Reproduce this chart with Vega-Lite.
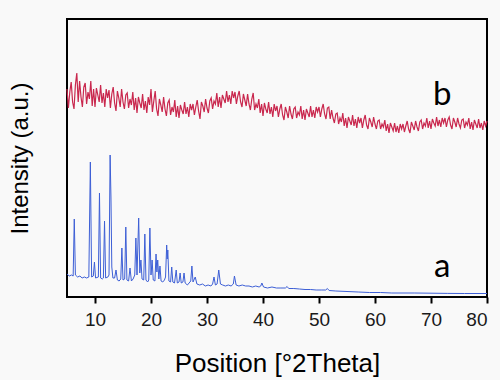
{
  "$schema": "https://vega.github.io/schema/vega-lite/v6.json",
  "width": 420,
  "height": 278,
  "autosize": {"type": "none"},
  "padding": {"left": 67, "top": 19, "right": 13, "bottom": 83},
  "background": "#f9f9f9",
  "config": {
    "view": {"fill": "#f9f9f9", "stroke": "#000000", "strokeWidth": 2},
    "axis": {"titleFont": "Liberation Sans", "labelFont": "Liberation Sans", "titleFontWeight": "normal", "titleColor": "#000000", "labelColor": "#1a1a1a"}
  },
  "datasets": {
    "a": [
      {"pos":5.0,"int":23},{"pos":5.4,"int":21},{"pos":5.8,"int":22},{"pos":6.1,"int":21},{"pos":6.3,"int":78},{"pos":6.5,"int":22},{"pos":6.9,"int":20},{"pos":7.3,"int":21},{"pos":7.7,"int":19},{"pos":8.1,"int":20},{"pos":8.5,"int":19},{"pos":8.9,"int":20},{"pos":9.17,"int":135},{"pos":9.4,"int":20},{"pos":9.7,"int":21},{"pos":9.9,"int":35},{"pos":10.1,"int":19},{"pos":10.6,"int":20},{"pos":10.8,"int":104},{"pos":11.0,"int":19},{"pos":11.3,"int":18},{"pos":11.5,"int":19},{"pos":11.7,"int":76},{"pos":11.9,"int":19},{"pos":12.3,"int":20},{"pos":12.5,"int":22},{"pos":12.7,"int":142},{"pos":12.85,"int":100},{"pos":13.0,"int":30},{"pos":13.2,"int":19},{"pos":13.5,"int":19},{"pos":13.75,"int":27},{"pos":14.0,"int":17},{"pos":14.3,"int":16},{"pos":14.6,"int":18},{"pos":14.8,"int":49},{"pos":15.0,"int":17},{"pos":15.3,"int":18},{"pos":15.5,"int":70},{"pos":15.7,"int":17},{"pos":16.0,"int":16},{"pos":16.25,"int":29},{"pos":16.5,"int":16},{"pos":16.8,"int":18},{"pos":17.1,"int":22},{"pos":17.3,"int":59},{"pos":17.5,"int":22},{"pos":17.8,"int":79},{"pos":18.0,"int":24},{"pos":18.2,"int":37},{"pos":18.4,"int":18},{"pos":18.7,"int":17},{"pos":18.9,"int":63},{"pos":19.1,"int":17},{"pos":19.4,"int":15},{"pos":19.6,"int":17},{"pos":19.8,"int":69},{"pos":20.0,"int":22},{"pos":20.2,"int":37},{"pos":20.4,"int":17},{"pos":20.7,"int":16},{"pos":20.9,"int":43},{"pos":21.05,"int":25},{"pos":21.2,"int":37},{"pos":21.4,"int":18},{"pos":21.6,"int":31},{"pos":21.8,"int":16},{"pos":22.1,"int":15},{"pos":22.4,"int":17},{"pos":22.6,"int":20},{"pos":22.8,"int":52},{"pos":22.9,"int":38},{"pos":23.0,"int":47},{"pos":23.2,"int":16},{"pos":23.5,"int":15},{"pos":23.7,"int":30},{"pos":23.9,"int":15},{"pos":24.2,"int":14},{"pos":24.5,"int":27},{"pos":24.7,"int":14},{"pos":25.0,"int":15},{"pos":25.2,"int":24},{"pos":25.4,"int":14},{"pos":25.7,"int":15},{"pos":25.9,"int":24},{"pos":26.1,"int":14},{"pos":26.5,"int":12},{"pos":26.8,"int":14},{"pos":27.1,"int":16},{"pos":27.3,"int":31},{"pos":27.5,"int":15},{"pos":27.9,"int":20},{"pos":28.2,"int":13},{"pos":28.7,"int":12},{"pos":29.2,"int":13},{"pos":29.7,"int":11},{"pos":30.2,"int":12},{"pos":30.7,"int":11},{"pos":31.0,"int":13},{"pos":31.25,"int":20},{"pos":31.5,"int":12},{"pos":31.8,"int":13},{"pos":32.1,"int":27},{"pos":32.4,"int":13},{"pos":32.8,"int":12},{"pos":33.3,"int":11},{"pos":33.8,"int":12},{"pos":34.3,"int":11},{"pos":34.7,"int":13},{"pos":34.9,"int":21},{"pos":35.2,"int":12},{"pos":35.7,"int":11},{"pos":36.3,"int":12},{"pos":36.9,"int":11},{"pos":37.5,"int":11},{"pos":38.1,"int":10},{"pos":38.7,"int":11},{"pos":39.3,"int":10},{"pos":39.6,"int":11},{"pos":39.8,"int":14},{"pos":40.1,"int":10},{"pos":40.8,"int":9},{"pos":41.6,"int":10},{"pos":42.4,"int":9},{"pos":43.2,"int":9},{"pos":44.0,"int":9},{"pos":44.3,"int":10.5},{"pos":44.6,"int":8.5},{"pos":45.5,"int":8.5},{"pos":46.5,"int":8},{"pos":47.5,"int":7.5},{"pos":48.5,"int":7.5},{"pos":49.5,"int":7},{"pos":50.5,"int":7},{"pos":51.2,"int":7},{"pos":51.5,"int":8.5},{"pos":51.8,"int":6.5},{"pos":53,"int":6},{"pos":55,"int":5.5},{"pos":57,"int":5},{"pos":59,"int":4.5},{"pos":61,"int":4.5},{"pos":63,"int":4},{"pos":65,"int":4},{"pos":67,"int":4},{"pos":70,"int":3.8},{"pos":73,"int":3.6},{"pos":76,"int":3.5},{"pos":80,"int":3.5}
    ],
    "b": [
      {"pos":5.0,"int":208},{"pos":5.25,"int":189},{"pos":5.5,"int":205},{"pos":5.75,"int":215},{"pos":6.0,"int":195},{"pos":6.25,"int":188},{"pos":6.5,"int":212},{"pos":6.75,"int":224},{"pos":7.0,"int":195},{"pos":7.25,"int":216},{"pos":7.5,"int":200},{"pos":7.75,"int":190},{"pos":8.0,"int":210},{"pos":8.25,"int":214},{"pos":8.5,"int":193},{"pos":8.75,"int":205},{"pos":9.0,"int":198},{"pos":9.25,"int":216},{"pos":9.5,"int":191},{"pos":9.75,"int":208},
      {"pos":10.0,"int":190},{"pos":10.25,"int":209},{"pos":10.5,"int":202},{"pos":10.75,"int":195},{"pos":11.0,"int":212},{"pos":11.25,"int":194},{"pos":11.5,"int":204},{"pos":11.75,"int":190},{"pos":12.0,"int":208},{"pos":12.25,"int":199},{"pos":12.5,"int":207},{"pos":12.75,"int":189},{"pos":13.0,"int":203},{"pos":13.25,"int":210},{"pos":13.5,"int":194},{"pos":13.75,"int":186},{"pos":14.0,"int":206},{"pos":14.25,"int":199},{"pos":14.5,"int":190},{"pos":14.75,"int":208},
      {"pos":15.0,"int":195},{"pos":15.25,"int":188},{"pos":15.5,"int":202},{"pos":15.75,"int":204},{"pos":16.0,"int":189},{"pos":16.25,"int":198},{"pos":16.5,"int":192},{"pos":16.75,"int":205},{"pos":17.0,"int":187},{"pos":17.25,"int":199},{"pos":17.5,"int":184},{"pos":17.75,"int":200},{"pos":18.0,"int":194},{"pos":18.25,"int":189},{"pos":18.5,"int":203},{"pos":18.75,"int":187},{"pos":19.0,"int":196},{"pos":19.25,"int":184},{"pos":19.5,"int":200},{"pos":19.75,"int":192},
      {"pos":20.0,"int":208},{"pos":20.25,"int":185},{"pos":20.5,"int":196},{"pos":20.75,"int":206},{"pos":21.0,"int":188},{"pos":21.25,"int":181},{"pos":21.5,"int":198},{"pos":21.75,"int":192},{"pos":22.0,"int":185},{"pos":22.25,"int":200},{"pos":22.5,"int":188},{"pos":22.75,"int":181},{"pos":23.0,"int":194},{"pos":23.25,"int":197},{"pos":23.5,"int":182},{"pos":23.75,"int":190},{"pos":24.0,"int":185},{"pos":24.25,"int":197},{"pos":24.5,"int":180},{"pos":24.75,"int":191},
      {"pos":25.0,"int":179},{"pos":25.25,"int":192},{"pos":25.5,"int":187},{"pos":25.75,"int":183},{"pos":26.0,"int":195},{"pos":26.25,"int":183},{"pos":26.5,"int":190},{"pos":26.75,"int":180},{"pos":27.0,"int":193},{"pos":27.25,"int":187},{"pos":27.5,"int":193},{"pos":27.75,"int":182},{"pos":28.0,"int":190},{"pos":28.25,"int":197},{"pos":28.5,"int":186},{"pos":28.75,"int":178},{"pos":29.0,"int":195},{"pos":29.25,"int":191},{"pos":29.5,"int":185},{"pos":29.75,"int":198},
      {"pos":30.0,"int":189},{"pos":30.25,"int":184},{"pos":30.5,"int":196},{"pos":30.75,"int":199},{"pos":31.0,"int":188},{"pos":31.25,"int":196},{"pos":31.5,"int":193},{"pos":31.75,"int":204},{"pos":32.0,"int":190},{"pos":32.25,"int":200},{"pos":32.5,"int":189},{"pos":32.75,"int":202},{"pos":33.0,"int":198},{"pos":33.25,"int":194},{"pos":33.5,"int":206},{"pos":33.75,"int":195},{"pos":34.0,"int":202},{"pos":34.25,"int":193},{"pos":34.5,"int":206},{"pos":34.75,"int":199},
      {"pos":35.0,"int":205},{"pos":35.25,"int":193},{"pos":35.5,"int":201},{"pos":35.75,"int":206},{"pos":36.0,"int":195},{"pos":36.25,"int":190},{"pos":36.5,"int":203},{"pos":36.75,"int":197},{"pos":37.0,"int":191},{"pos":37.25,"int":203},{"pos":37.5,"int":193},{"pos":37.75,"int":187},{"pos":38.0,"int":198},{"pos":38.25,"int":204},{"pos":38.5,"int":187},{"pos":38.75,"int":193},{"pos":39.0,"int":189},{"pos":39.25,"int":198},{"pos":39.5,"int":184},{"pos":39.75,"int":193},
      {"pos":40.0,"int":181},{"pos":40.25,"int":194},{"pos":40.5,"int":188},{"pos":40.75,"int":184},{"pos":41.0,"int":195},{"pos":41.25,"int":183},{"pos":41.5,"int":190},{"pos":41.75,"int":180},{"pos":42.0,"int":193},{"pos":42.25,"int":186},{"pos":42.5,"int":191},{"pos":42.75,"int":180},{"pos":43.0,"int":188},{"pos":43.25,"int":193},{"pos":43.5,"int":182},{"pos":43.75,"int":177},{"pos":44.0,"int":190},{"pos":44.25,"int":185},{"pos":44.5,"int":179},{"pos":44.75,"int":191},
      {"pos":45.0,"int":183},{"pos":45.25,"int":178},{"pos":45.5,"int":188},{"pos":45.75,"int":190},{"pos":46.0,"int":179},{"pos":46.25,"int":185},{"pos":46.5,"int":182},{"pos":46.75,"int":191},{"pos":47.0,"int":178},{"pos":47.25,"int":187},{"pos":47.5,"int":177},{"pos":47.75,"int":188},{"pos":48.0,"int":184},{"pos":48.25,"int":180},{"pos":48.5,"int":191},{"pos":48.75,"int":180},{"pos":49.0,"int":187},{"pos":49.25,"int":179},{"pos":49.5,"int":190},{"pos":49.75,"int":185},
      {"pos":50.0,"int":190},{"pos":50.25,"int":180},{"pos":50.5,"int":188},{"pos":50.75,"int":193},{"pos":51.0,"int":183},{"pos":51.25,"int":178},{"pos":51.5,"int":189},{"pos":51.75,"int":190},{"pos":52.0,"int":178},{"pos":52.25,"int":187},{"pos":52.5,"int":179},{"pos":52.75,"int":174},{"pos":53.0,"int":183},{"pos":53.25,"int":184},{"pos":53.5,"int":173},{"pos":53.75,"int":179},{"pos":54.0,"int":175},{"pos":54.25,"int":184},{"pos":54.5,"int":171},{"pos":54.75,"int":179},
      {"pos":55.0,"int":169},{"pos":55.25,"int":180},{"pos":55.5,"int":176},{"pos":55.75,"int":172},{"pos":56.0,"int":182},{"pos":56.25,"int":171},{"pos":56.5,"int":178},{"pos":56.75,"int":169},{"pos":57.0,"int":180},{"pos":57.25,"int":174},{"pos":57.5,"int":179},{"pos":57.75,"int":169},{"pos":58.0,"int":177},{"pos":58.25,"int":182},{"pos":58.5,"int":172},{"pos":58.75,"int":168},{"pos":59.0,"int":179},{"pos":59.25,"int":175},{"pos":59.5,"int":170},{"pos":59.75,"int":180},
      {"pos":60.0,"int":173},{"pos":60.25,"int":168},{"pos":60.5,"int":176},{"pos":60.75,"int":177},{"pos":61.0,"int":168},{"pos":61.25,"int":173},{"pos":61.5,"int":170},{"pos":61.75,"int":177},{"pos":62.0,"int":166},{"pos":62.25,"int":173},{"pos":62.5,"int":164},{"pos":62.75,"int":174},{"pos":63.0,"int":170},{"pos":63.25,"int":166},{"pos":63.5,"int":174},{"pos":63.75,"int":165},{"pos":64.0,"int":171},{"pos":64.25,"int":164},{"pos":64.5,"int":173},{"pos":64.75,"int":168},
      {"pos":65.0,"int":173},{"pos":65.25,"int":165},{"pos":65.5,"int":171},{"pos":65.75,"int":176},{"pos":66.0,"int":168},{"pos":66.25,"int":164},{"pos":66.5,"int":175},{"pos":66.75,"int":171},{"pos":67.0,"int":167},{"pos":67.25,"int":176},{"pos":67.5,"int":170},{"pos":67.75,"int":166},{"pos":68.0,"int":175},{"pos":68.25,"int":177},{"pos":68.5,"int":168},{"pos":68.75,"int":174},{"pos":69.0,"int":171},{"pos":69.25,"int":179},{"pos":69.5,"int":169},{"pos":69.75,"int":176},
      {"pos":70.0,"int":168},{"pos":70.25,"int":178},{"pos":70.5,"int":174},{"pos":70.75,"int":171},{"pos":71.0,"int":180},{"pos":71.25,"int":171},{"pos":71.5,"int":177},{"pos":71.75,"int":170},{"pos":72.0,"int":179},{"pos":72.25,"int":174},{"pos":72.5,"int":179},{"pos":72.75,"int":170},{"pos":73.0,"int":177},{"pos":73.25,"int":180},{"pos":73.5,"int":172},{"pos":73.75,"int":168},{"pos":74.0,"int":179},{"pos":74.25,"int":175},{"pos":74.5,"int":170},{"pos":74.75,"int":179},
      {"pos":75.0,"int":173},{"pos":75.25,"int":169},{"pos":75.5,"int":177},{"pos":75.75,"int":178},{"pos":76.0,"int":169},{"pos":76.25,"int":175},{"pos":76.5,"int":172},{"pos":76.75,"int":179},{"pos":77.0,"int":168},{"pos":77.25,"int":175},{"pos":77.5,"int":167},{"pos":77.75,"int":177},{"pos":78.0,"int":173},{"pos":78.25,"int":169},{"pos":78.5,"int":178},{"pos":78.75,"int":169},{"pos":79.0,"int":174},{"pos":79.25,"int":167},{"pos":79.5,"int":176},{"pos":79.75,"int":171},{"pos":80.0,"int":176}
    ],
    "labels": [
      {"pos":72,"int":202,"label":"b"},
      {"pos":72,"int":30,"label":"a"}
    ]
  },
  "encoding": {
    "x": {
      "field": "pos", "type": "quantitative",
      "scale": {"domain": [5, 80], "nice": false, "zero": false},
      "axis": {
        "title": "Position [°2Theta]", "values": [10,20,30,40,50,60,70,80],
        "domain": false, "grid": false, "tickSize": 6, "tickWidth": 2, "tickColor": "#000000",
        "labelFontSize": 19, "labelPadding": 7, "titleFontSize": 26, "titlePadding": 21
      }
    },
    "y": {
      "field": "int", "type": "quantitative",
      "scale": {"domain": [0, 278], "nice": false},
      "axis": {
        "title": "Intensity (a.u.)", "domain": false, "grid": false, "ticks": false, "labels": false,
        "titleFontSize": 24, "titlePadding": 35
      }
    }
  },
  "layer": [
    {"data": {"name": "a"}, "mark": {"type": "line", "color": "#3d5fd6", "strokeWidth": 1}},
    {"data": {"name": "b"}, "mark": {"type": "line", "color": "#c9284e", "strokeWidth": 1.2}},
    {"data": {"name": "labels"}, "mark": {"type": "text", "font": "Lato", "fontSize": 33, "color": "#000000", "align": "center", "baseline": "middle"}, "encoding": {"text": {"field": "label"}}}
  ]
}
